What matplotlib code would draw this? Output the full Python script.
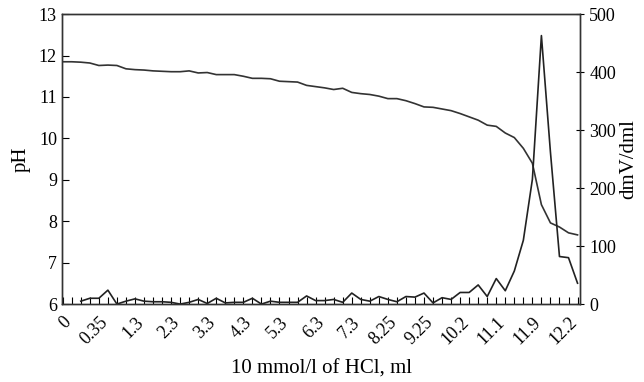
import matplotlib.pyplot as plt

plt.rcParams["font.family"] = ["Liberation Serif", "DejaVu Serif"]

# volume labels shown under every 4th point
volume_labels = ["0", "0.35", "1.3", "2.3", "3.3", "4.3", "5.3", "6.3",
                 "7.3", "8.25", "9.25", "10.2", "11.1", "11.9", "12.2"]

ph_values = [11.85, 11.85, 11.84, 11.82, 11.76, 11.77, 11.76, 11.68, 11.66, 11.65,
             11.63, 11.62, 11.61, 11.61, 11.63, 11.58, 11.59, 11.54, 11.54, 11.54,
             11.50, 11.45, 11.45, 11.44, 11.38, 11.37, 11.36, 11.28, 11.25, 11.22,
             11.18, 11.21, 11.11, 11.08, 11.06, 11.02, 10.96, 10.96, 10.91, 10.84,
             10.76, 10.75, 10.71, 10.67, 10.60, 10.52, 10.44, 10.32, 10.29, 10.13,
             10.02, 9.76, 9.40, 8.40, 7.96, 7.86, 7.72, 7.67]

# first derivative, starts at the second point
dmv_values = [5, 10, 10, 24, 0, 5, 9, 5, 4,
              4, 3, 0, 3, 8, 1, 10, 2, 3, 3,
              10, 0, 5, 3, 3, 3, 14, 6, 6, 8,
              3, 19, 8, 5, 13, 8, 4, 13, 12, 19,
              2, 11, 8, 20, 20, 33, 13, 44, 23, 57,
              110, 215, 463, 262, 82, 80, 36]

n = len(ph_values)
idx = list(range(n))
dmv_idx = idx[n - len(dmv_values):]

fig = plt.figure(figsize=(6.44, 3.82), dpi=100)
ax = fig.add_axes([0.096, 0.204, 0.805, 0.759])
ax2 = ax.twinx()

ax.plot(idx, ph_values, color="#333333", linewidth=1.2)
ax2.plot(dmv_idx, dmv_values, color="#222222", linewidth=1.2)

ax.set_xlim(-0.1, n - 0.7)
ax.set_ylim(6, 13)
ax2.set_ylim(0, 500)

ax.set_xticks(idx, minor=True)
ax.set_xticks(idx[::4])
ax.set_xticklabels(volume_labels, rotation=45, ha="right", va="top",
                   rotation_mode="anchor", fontsize=13)
ax.tick_params(axis="x", which="both", direction="in", length=5, width=0.8)
ax.tick_params(axis="x", which="major", pad=7)
ax.tick_params(axis="y", direction="in", length=5, labelsize=13)
ax2.tick_params(axis="y", direction="inout", length=6, labelsize=13)

ax.set_xlabel("10 mmol/l of HCl, ml", fontsize=15, labelpad=8)
ax.set_ylabel("pH", fontsize=15, labelpad=6)
ax2.set_ylabel("dmV/dml", fontsize=15, labelpad=2)

for a in (ax, ax2):
    for s in a.spines.values():
        s.set_linewidth(1.0)
        s.set_color("#333333")

plt.savefig("out.png", dpi=100)
